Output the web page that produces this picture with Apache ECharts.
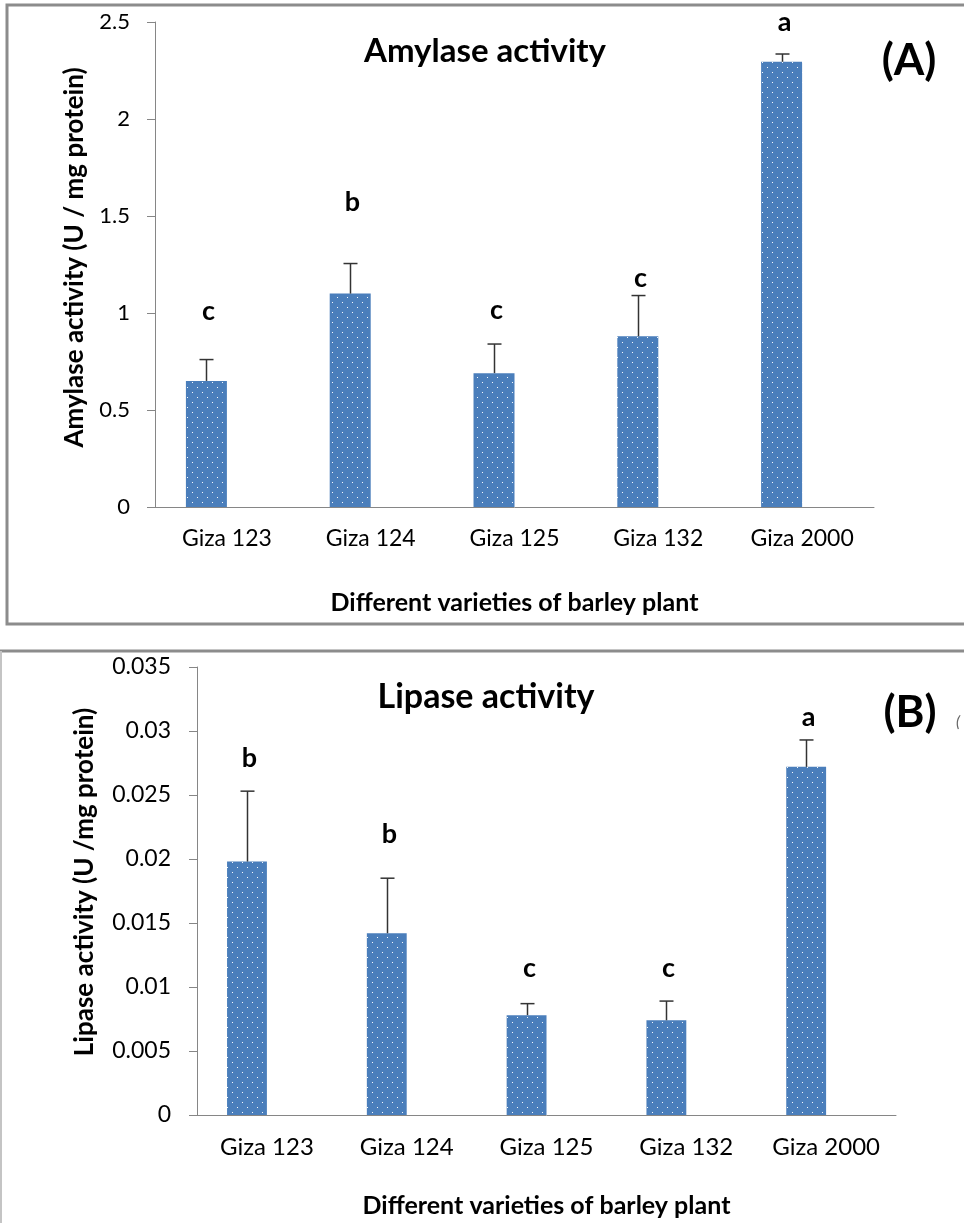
<!DOCTYPE html>
<html><head><meta charset="utf-8">
<script src="https://cdn.jsdelivr.net/npm/echarts@6/dist/echarts.min.js"></script>
<style>html,body{margin:0;padding:0;background:#fff}#c{width:964px;height:1223px}</style>
</head><body><div id="c"></div>
<script>
// ---- data ----
const categories = ['Giza 123', 'Giza 124', 'Giza 125', 'Giza 132', 'Giza 2000'];
const amylaseMean = [0.65, 1.10, 0.69, 0.88, 2.295];
const amylaseErr = [0.11, 0.155, 0.15, 0.21, 0.04];
const amylaseLetters = ['c', 'b', 'c', 'c', 'a'];
const lipaseMean = [0.0198, 0.0142, 0.0078, 0.0074, 0.0272];
const lipaseErr = [0.0055, 0.0043, 0.0009, 0.0015, 0.0021];
const lipaseLetters = ['b', 'b', 'c', 'c', 'a'];
const amylaseAxis = { min: 0, max: 2.5, interval: 0.5 };
const lipaseAxis = { min: 0, max: 0.035, interval: 0.005 };

// ---- layout (annotation anchors in axis units) ----
const amylaseLetterAt = [1.01, 1.57, 1.015, 1.18, 2.50];
const lipaseLetterAt = [0.0279, 0.0219, 0.0115, 0.0115, 0.0311];

const FONT = 'Lato';
const GAP = 0.43;
const BAR = '#4a7ebb';

const pc = document.createElement('canvas');
pc.width = 10; pc.height = 10;
const px = pc.getContext('2d');
px.fillStyle = BAR; px.fillRect(0, 0, 10, 10);
px.fillStyle = 'rgba(255,255,255,0.95)';
px.fillRect(2, 2, 1, 1); px.fillRect(7, 7, 1, 1);
const barFill = { image: pc, repeat: 'repeat' };

function errRender(letters, letterAt, fs) {
  return function (params, api) {
    const i = api.value(0), v = api.value(1), e = api.value(2);
    const bw = api.size([1, 0])[0];
    const off = -bw * (1 - GAP) / 4;
    const p0 = api.coord([i, v]);
    const p1 = api.coord([i, v + e]);
    const pl = api.coord([i, letterAt[i]]);
    const x = Math.round(p0[0] + off) + 0.5;
    return {
      type: 'group', children: [
        { type: 'line', shape: { x1: x, y1: p0[1], x2: x, y2: p1[1] }, style: { stroke: '#333', lineWidth: 1.5 } },
        { type: 'line', shape: { x1: x - 7, y1: p1[1], x2: x + 7, y2: p1[1] }, style: { stroke: '#333', lineWidth: 1.5 } },
        { type: 'text', x: x + 2, y: pl[1], style: { text: letters[i], align: 'center', verticalAlign: 'middle', font: 'bold ' + fs + 'px ' + FONT, fill: '#000' } }
      ]
    };
  };
}

function xAx(gi, fs, gap) {
  return {
    type: 'category', gridIndex: gi, data: categories,
    axisLine: { lineStyle: { color: '#868686', width: 1 } },
    axisTick: { length: 9, lineStyle: { color: '#868686' } },
    axisLabel: { fontSize: fs, color: '#000', fontFamily: FONT, margin: 20, interval: 0, hideOverlap: false },
    name: 'Different varieties of barley plant', nameLocation: 'middle', nameGap: gap,
    nameTextStyle: { fontSize: 25, fontWeight: 'bold', color: '#000', fontFamily: FONT }
  };
}
function yAx(gi, ax, fs, margin, name, gap, shift) {
  return {
    type: 'value', gridIndex: gi, min: ax.min, max: ax.max, interval: ax.interval,
    axisLine: { show: true, lineStyle: { color: '#868686', width: 1 } },
    axisTick: { show: true, length: 8, lineStyle: { color: '#868686' } },
    splitLine: { show: false },
    axisLabel: { fontSize: fs, color: '#000', fontFamily: FONT, margin: margin },
    name: name, nameLocation: 'middle', nameRotate: 90, nameGap: gap,
    nameTextStyle: { fontSize: 26, fontWeight: 'bold', color: '#000', fontFamily: FONT, padding: [0, 0, 0, shift] }
  };
}

const chart = echarts.init(document.getElementById('c'), null, { renderer: 'canvas' });
chart.setOption({
  animation: false,
  backgroundColor: '#fff',
  grid: [
    { left: 155, right: 90, top: 22, bottom: 716 },
    { left: 197, right: 68, top: 667, bottom: 108 }
  ],
  xAxis: [xAx(0, 23, 83), xAx(1, 24, 78)],
  yAxis: [
    yAx(0, amylaseAxis, 22, 25, 'Amylase activity (U / mg protein)', 67, 14),
    yAx(1, lipaseAxis, 23, 26, 'Lipase activity (U /mg protein)', 99, 18)
  ],
  series: [
    { type: 'bar', xAxisIndex: 0, yAxisIndex: 0, data: amylaseMean, barGap: '0%', barCategoryGap: (GAP * 100) + '%', itemStyle: { color: barFill } },
    { type: 'bar', xAxisIndex: 0, yAxisIndex: 0, data: categories.map(() => null) },
    { type: 'custom', xAxisIndex: 0, yAxisIndex: 0, renderItem: errRender(amylaseLetters, amylaseLetterAt, 27),
      data: categories.map((c, i) => [i, amylaseMean[i], amylaseErr[i]]), z: 5 },
    { type: 'bar', xAxisIndex: 1, yAxisIndex: 1, data: lipaseMean, barGap: '0%', barCategoryGap: (GAP * 100) + '%', itemStyle: { color: barFill } },
    { type: 'bar', xAxisIndex: 1, yAxisIndex: 1, data: categories.map(() => null) },
    { type: 'custom', xAxisIndex: 1, yAxisIndex: 1, renderItem: errRender(lipaseLetters, lipaseLetterAt, 27),
      data: categories.map((c, i) => [i, lipaseMean[i], lipaseErr[i]]), z: 5 }
  ],
  graphic: [
    { type: 'rect', shape: { x: 7, y: 5, width: 1000, height: 619 }, style: { fill: null, stroke: '#8c8c8c', lineWidth: 3 }, z: 0 },
    { type: 'line', shape: { x1: 0, y1: 651, x2: 964, y2: 651 }, style: { stroke: '#8c8c8c', lineWidth: 3 } },
    { type: 'line', shape: { x1: 1, y1: 651, x2: 1, y2: 1223 }, style: { stroke: '#c4c4c4', lineWidth: 2 } },
    { type: 'text', x: 485, y: 51, style: { text: 'Amylase activity', align: 'center', verticalAlign: 'middle', font: 'bold 33px ' + FONT, fill: '#000' } },
    { type: 'text', x: 909, y: 61, style: { text: '(A)', align: 'center', verticalAlign: 'middle', font: 'bold 44px ' + FONT, fill: '#000' } },
    { type: 'text', x: 486, y: 697, style: { text: 'Lipase activity', align: 'center', verticalAlign: 'middle', font: 'bold 34px ' + FONT, fill: '#000' } },
    { type: 'text', x: 910, y: 713, style: { text: '(B)', align: 'center', verticalAlign: 'middle', font: 'bold 44px ' + FONT, fill: '#000' } },
    { type: 'text', x: 958, y: 722, style: { text: '(', align: 'center', verticalAlign: 'middle', font: 'italic 16px ' + FONT, fill: '#666' } }
  ]
});
</script></body></html>
